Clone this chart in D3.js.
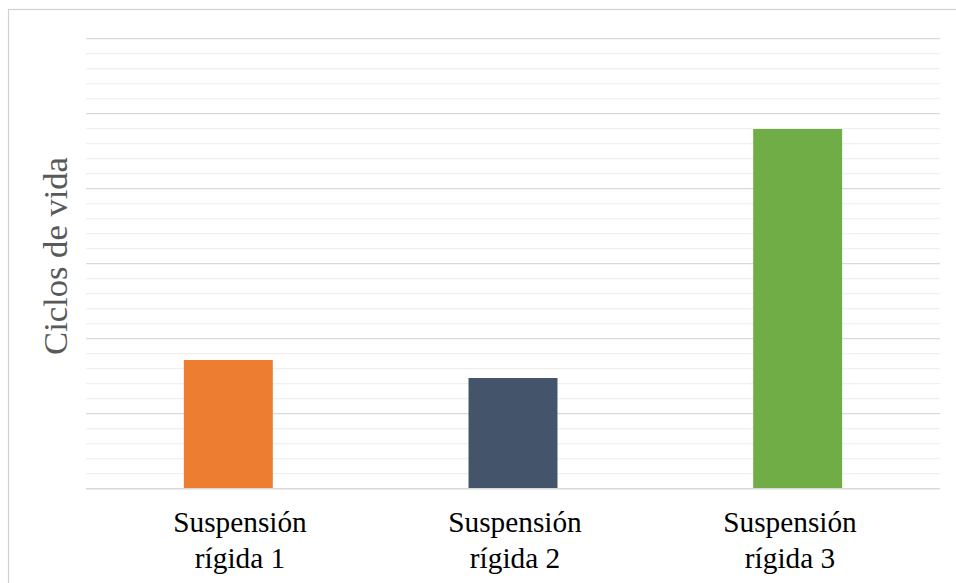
<!DOCTYPE html>
<html>
<head>
<meta charset="utf-8">
<script src="https://cdn.jsdelivr.net/npm/d3@7"></script>
<style>
  html, body { margin: 0; padding: 0; background: #fff; }
  svg { display: block; }
</style>
</head>
<body>
<svg id="chart" width="956" height="583"></svg>
<script>
// Categories (two-line labels) and life-cycle values per suspension
const categories = ["Suspensión rígida 1", "Suspensión rígida 2", "Suspensión rígida 3"];
const labelLines = [["Suspensión", "rígida 1"], ["Suspensión", "rígida 2"], ["Suspensión", "rígida 3"]];
const values = [1716, 1476, 4796];
const barColors = ["#ED7D31", "#44546A", "#70AD47"];
const yMax = 6000;
const majorStep = 1000;
const minorStep = 200;
const yTitle = "Ciclos de vida";

const svg = d3.select("#chart");
const W = 956, H = 583;
const plot = { left: 86, right: 940, top: 38.7, bottom: 488.7 };

// Outer chart frame
svg.append("rect")
  .attr("x", 8.5).attr("y", 9.5)
  .attr("width", W + 20).attr("height", H + 20)
  .attr("fill", "#fff").attr("stroke", "#d0d0d0").attr("stroke-width", 1.2);

const x = d3.scaleBand()
  .domain(categories)
  .range([plot.left, plot.right])
  .paddingInner(0.6875)
  .paddingOuter(0.34375);

const y = d3.scaleLinear().domain([0, yMax]).range([plot.bottom, plot.top]);

// Minor gridlines
const minorTicks = d3.range(0, yMax + 1, minorStep).filter(v => v % majorStep !== 0);
svg.append("g").selectAll("line").data(minorTicks).join("line")
  .attr("x1", plot.left).attr("x2", plot.right)
  .attr("y1", d => y(d)).attr("y2", d => y(d))
  .attr("stroke", "#f0f0f0").attr("stroke-width", 1.3);

// Major gridlines
const majorTicks = d3.range(majorStep, yMax + 1, majorStep);
svg.append("g").selectAll("line").data(majorTicks).join("line")
  .attr("x1", plot.left).attr("x2", plot.right)
  .attr("y1", d => y(d)).attr("y2", d => y(d))
  .attr("stroke", "#d9d9d9").attr("stroke-width", 1.3);

// Bars
svg.append("g").selectAll("rect").data(values).join("rect")
  .attr("x", (d, i) => x(categories[i]))
  .attr("width", x.bandwidth())
  .attr("y", d => y(d))
  .attr("height", d => y(0) - y(d))
  .attr("fill", (d, i) => barColors[i]);

// Category axis line
svg.append("line")
  .attr("x1", plot.left).attr("x2", plot.right)
  .attr("y1", y(0)).attr("y2", y(0))
  .attr("stroke", "#d9d9d9").attr("stroke-width", 1.5);

// Category labels
const labelScale = d3.scaleBand().domain(categories).range([102.5, 927.5]);
const lbl = svg.append("g")
  .attr("font-family", "'Liberation Serif', 'Times New Roman', serif")
  .attr("font-size", 29.3)
  .attr("fill", "#000")
  .attr("text-anchor", "middle");
categories.forEach((c, i) => {
  const t = lbl.append("text")
    .attr("x", labelScale(c) + labelScale.bandwidth() / 2)
    .attr("y", 532.3);
  labelLines[i].forEach((line, j) => {
    t.append("tspan")
      .attr("x", labelScale(c) + labelScale.bandwidth() / 2)
      .attr("dy", j === 0 ? 0 : 36)
      .text(line);
  });
});

// Y-axis title
svg.append("text")
  .attr("transform", "translate(67,256) rotate(-90)")
  .attr("text-anchor", "middle")
  .attr("font-family", "'Liberation Serif', 'Times New Roman', serif")
  .attr("font-size", 34.6)
  .attr("fill", "#595959")
  .text(yTitle);
</script>
</body>
</html>
